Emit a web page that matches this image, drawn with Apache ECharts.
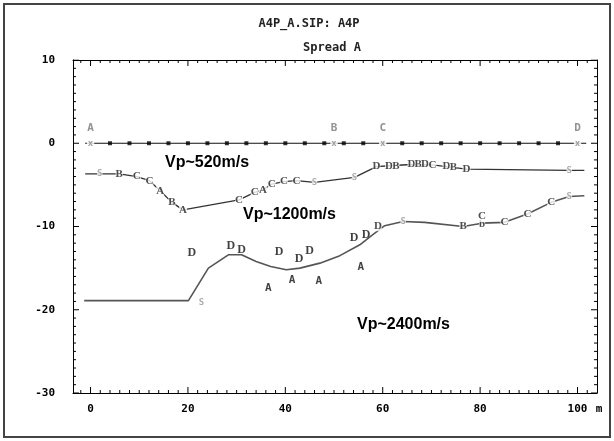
<!DOCTYPE html>
<html>
<head>
<meta charset="utf-8">
<script src="https://cdn.jsdelivr.net/npm/echarts@6/dist/echarts.min.js"></script>
<style>html,body{margin:0;padding:0;background:#fff}#c{width:614px;height:441px}</style>
</head>
<body>
<div id="c"></div>
<script>
// ---- data ----
const titleText = 'A4P_A.SIP: A4P';
const subtitleText = 'Spread A';
const xMajorTicks = [0, 20, 40, 60, 80, 100];
const xMinorTicks = [-2, 2, 4, 6, 8, 10, 12, 14, 16, 18, 22, 24, 26, 28, 30, 32, 34, 36, 38, 42, 44, 46, 48, 50, 52, 54, 56, 58, 62, 64, 66, 68, 70, 72, 74, 76, 78, 82, 84, 86, 88, 90, 92, 94, 96, 98, 102];
const yMajorTicks = [10, 0, -10, -20, -30];
const yMinorTicks = [9, 8, 7, 6, 5, 4, 3, 2, 1, -1, -2, -3, -4, -5, -6, -7, -8, -9, -11, -12, -13, -14, -15, -16, -17, -18, -19, -21, -22, -23, -24, -25, -26, -27, -28, -29];
const surfaceLine = [[-1.1, 0], [101.8, 0]];
const geophoneX = [4, 8, 12, 16, 20, 24, 28, 32, 36, 40, 44, 48, 52, 56, 64, 68, 72, 76, 80, 84, 88, 92, 96];
const shotX = [0, 50, 60, 100];
const shotNames = ['A', 'B', 'C', 'D'];
const upperLine = [[-1.1, -3.67], [1.9, -3.67], [5.9, -3.67], [9.5, -4.0], [12.1, -4.5], [14.3, -5.7], [16.7, -7.1], [19.0, -8.0], [30.5, -6.8], [33.7, -5.9], [35.4, -5.6], [37.2, -4.9], [39.7, -4.6], [42.3, -4.5], [46.0, -4.7], [54.2, -4.1], [58.7, -2.8], [61.3, -2.7], [65.9, -2.55], [70.2, -2.6], [73.1, -2.8], [77.2, -3.1], [98.3, -3.27], [101.4, -3.27]];
const upperMarks = [[1.9, -3.67, 'S'], [5.9, -3.67, 'B'], [9.5, -4.0, 'C'], [12.1, -4.5, 'C'], [14.3, -5.7, 'A'], [16.7, -7.1, 'B'], [19.0, -8.0, 'A'], [30.5, -6.8, 'C'], [33.7, -5.9, 'C'], [35.4, -5.6, 'A'], [37.2, -4.9, 'C'], [39.7, -4.6, 'C'], [42.3, -4.5, 'C'], [46.0, -4.7, 'S'], [54.2, -4.1, 'S'], [58.7, -2.8, 'D'], [61.3, -2.7, 'D'], [62.7, -2.7, 'B'], [65.9, -2.55, 'D'], [67.3, -2.55, 'B'], [68.7, -2.55, 'D'], [70.2, -2.6, 'C'], [73.1, -2.8, 'D'], [74.5, -2.9, 'B'], [77.2, -3.1, 'D'], [98.3, -3.27, 'S']];
const lowerLine = [[-1.3, -18.9], [20.1, -18.9], [24.2, -15.0], [28.3, -13.4], [31.0, -13.4], [34.0, -14.2], [37.0, -14.8], [40.2, -15.2], [43.0, -15.0], [47.1, -14.4], [51.2, -13.5], [55.3, -12.2], [57.7, -11.1], [60.4, -9.9], [64.2, -9.4], [68.6, -9.5], [76.5, -10.0], [80.4, -9.6], [85.0, -9.5], [89.7, -8.5], [94.6, -7.1], [98.3, -6.4], [101.4, -6.3]];
const lowerMarks = [[59.0, -9.9, 'D'], [64.2, -9.4, 'S'], [76.5, -10.0, 'B'], [80.4, -9.7, 'b'], [80.4, -8.8, 'C'], [85.0, -9.5, 'C'], [89.7, -8.5, 'C'], [94.6, -7.1, 'C'], [98.3, -6.4, 'S']];
const scatterD = [[20.8, -13.2], [28.8, -12.3], [31.0, -12.8], [38.7, -13.0], [42.8, -13.9], [45.0, -12.9], [54.1, -11.4], [56.6, -11.0]];
const scatterA = [[36.5, -17.4], [41.4, -16.5], [46.9, -16.6], [55.5, -14.9]];
const scatterS = [[22.8, -19.1]];
const velocityLabels = ['Vp~520m/s', 'Vp~1200m/s', 'Vp~2400m/s'];

// ---- chart ----
const mono = '"DejaVu Sans Mono", monospace';
const serif = '"Liberation Serif", "DejaVu Serif", serif';
const XMIN = -3.6, XMAX = 104, YMIN = -30, YMAX = 10;
const GRID = { left: 73, right: 17, top: 60, bottom: 48 };
const PLOT_W = 614 - GRID.left - GRID.right, PLOT_H = 441 - GRID.top - GRID.bottom;
const XU = (XMAX - XMIN) / PLOT_W, YU = (YMAX - YMIN) / PLOT_H; // data units per pixel
const MAJOR_LEN = 6, MINOR_LEN = 3;

function axisOpt(min, max, pos, ticks, margin) {
  return {
    type: 'value', min: min, max: max, position: pos,
    axisLine: { show: true, onZero: false, lineStyle: { color: '#000', width: 1 } },
    axisTick: { show: false },
    axisLabel: ticks ? { show: true, customValues: ticks, margin: margin, color: '#000', fontFamily: mono, fontWeight: 'bold', fontSize: 11 } : { show: false },
    splitLine: { show: false }
  };
}

// inward tick segments on the four sides, each one a two-point line in data space
const tickSegs = [];
function xTick(v, len) {
  tickSegs.push([[v, YMIN], [v, YMIN + len * YU]], [[v, YMAX], [v, YMAX - len * YU]]);
}
function yTick(v, len) {
  tickSegs.push([[XMIN, v], [XMIN + len * XU, v]], [[XMAX, v], [XMAX - len * XU, v]]);
}
xMajorTicks.forEach(v => xTick(v, MAJOR_LEN));
xMinorTicks.forEach(v => xTick(v, MINOR_LEN));
yMajorTicks.forEach(v => yTick(v, MAJOR_LEN));
yMinorTicks.forEach(v => yTick(v, MINOR_LEN));
const tickSeries = tickSegs.map(seg => ({
  type: 'line', data: seg, symbol: 'none', silent: true, z: 6,
  lineStyle: { color: '#000', width: 1 }
}));

function letterItems(arr, defColor) {
  return arr.map(p => ({
    value: [p[0], p[1], p[2]],
    label: { color: p[2] === 'S' ? '#999' : defColor, fontFamily: p[2] === 'S' ? mono : serif, fontSize: p[2] === 'S' ? 9 : 11 }
  }));
}
function letterSeries(items, extraLabel) {
  return {
    type: 'scatter', data: items, symbolSize: 0, itemStyle: { color: 'rgba(0,0,0,0)' }, z: 5,
    label: Object.assign({
      show: true, position: 'inside', formatter: p => p.value[2],
      fontWeight: 'bold', fontSize: 11, fontFamily: serif, color: '#222',
      backgroundColor: '#fff', padding: [0, 0]
    }, extraLabel || {})
  };
}

const textFont = 'bold 16px "Liberation Sans", Arial, sans-serif';
const chart = echarts.init(document.getElementById('c'), null, { renderer: 'canvas' });
chart.setOption({
  animation: false,
  backgroundColor: '#fff',
  grid: Object.assign({ show: false }, GRID),
  xAxis: [axisOpt(XMIN, XMAX, 'bottom', xMajorTicks, 11), axisOpt(XMIN, XMAX, 'top', null, 0)],
  yAxis: [axisOpt(YMIN, YMAX, 'left', yMajorTicks, 18), axisOpt(YMIN, YMAX, 'right', null, 0)],
  graphic: [
    { type: 'rect', shape: { x: 4, y: 4, width: 606, height: 433 }, style: { fill: 'none', stroke: '#444', lineWidth: 2 }, z: 100 },
    { type: 'text', style: { text: titleText, x: 309, y: 24, align: 'center', verticalAlign: 'middle', font: 'bold 12px ' + mono, fill: '#222' } },
    { type: 'text', style: { text: subtitleText, x: 332, y: 48, align: 'center', verticalAlign: 'middle', font: 'bold 12px ' + mono, fill: '#222' } },
    { type: 'text', style: { text: 'm', x: 599, y: 409, align: 'center', verticalAlign: 'middle', font: 'bold 11px ' + mono, fill: '#000' } },
    { type: 'text', style: { text: velocityLabels[0], x: 165, y: 163, align: 'left', verticalAlign: 'middle', font: textFont, fill: '#000' } },
    { type: 'text', style: { text: velocityLabels[1], x: 243, y: 215, align: 'left', verticalAlign: 'middle', font: textFont, fill: '#000' } },
    { type: 'text', style: { text: velocityLabels[2], x: 357, y: 325, align: 'left', verticalAlign: 'middle', font: textFont, fill: '#000' } }
  ],
  series: tickSeries.concat([
    { type: 'line', data: surfaceLine, symbol: 'none', lineStyle: { color: '#111', width: 1 }, z: 2 },
    { type: 'scatter', data: geophoneX.map(x => [x, 0]), symbol: 'rect', symbolSize: 4, itemStyle: { color: '#000' }, z: 4 },
    letterSeries(shotX.map(x => [x, 0, 'x']), { color: '#888', fontFamily: mono, fontSize: 9, padding: [0, 1] }),
    letterSeries(shotX.map((x, i) => [x, 1.8, shotNames[i]]), { color: '#777', fontFamily: mono, fontSize: 11, backgroundColor: 'transparent' }),
    { type: 'line', data: upperLine, symbol: 'none', lineStyle: { color: '#333', width: 1.3 }, z: 2 },
    letterSeries(letterItems(upperMarks, '#222')),
    { type: 'line', data: lowerLine, symbol: 'none', lineStyle: { color: '#555', width: 1.6 }, z: 2 },
    letterSeries(letterItems(lowerMarks, '#222')),
    letterSeries(scatterD.map(p => [p[0], p[1], 'D']), { backgroundColor: 'transparent', color: '#111', fontSize: 12 }),
    letterSeries(scatterA.map(p => [p[0], p[1], 'A']), { backgroundColor: 'transparent', color: '#111', fontFamily: mono, fontSize: 11 }),
    letterSeries(scatterS.map(p => [p[0], p[1], 'S']), { backgroundColor: 'transparent', color: '#999', fontFamily: mono, fontSize: 9 })
  ])
});
</script>
</body>
</html>
